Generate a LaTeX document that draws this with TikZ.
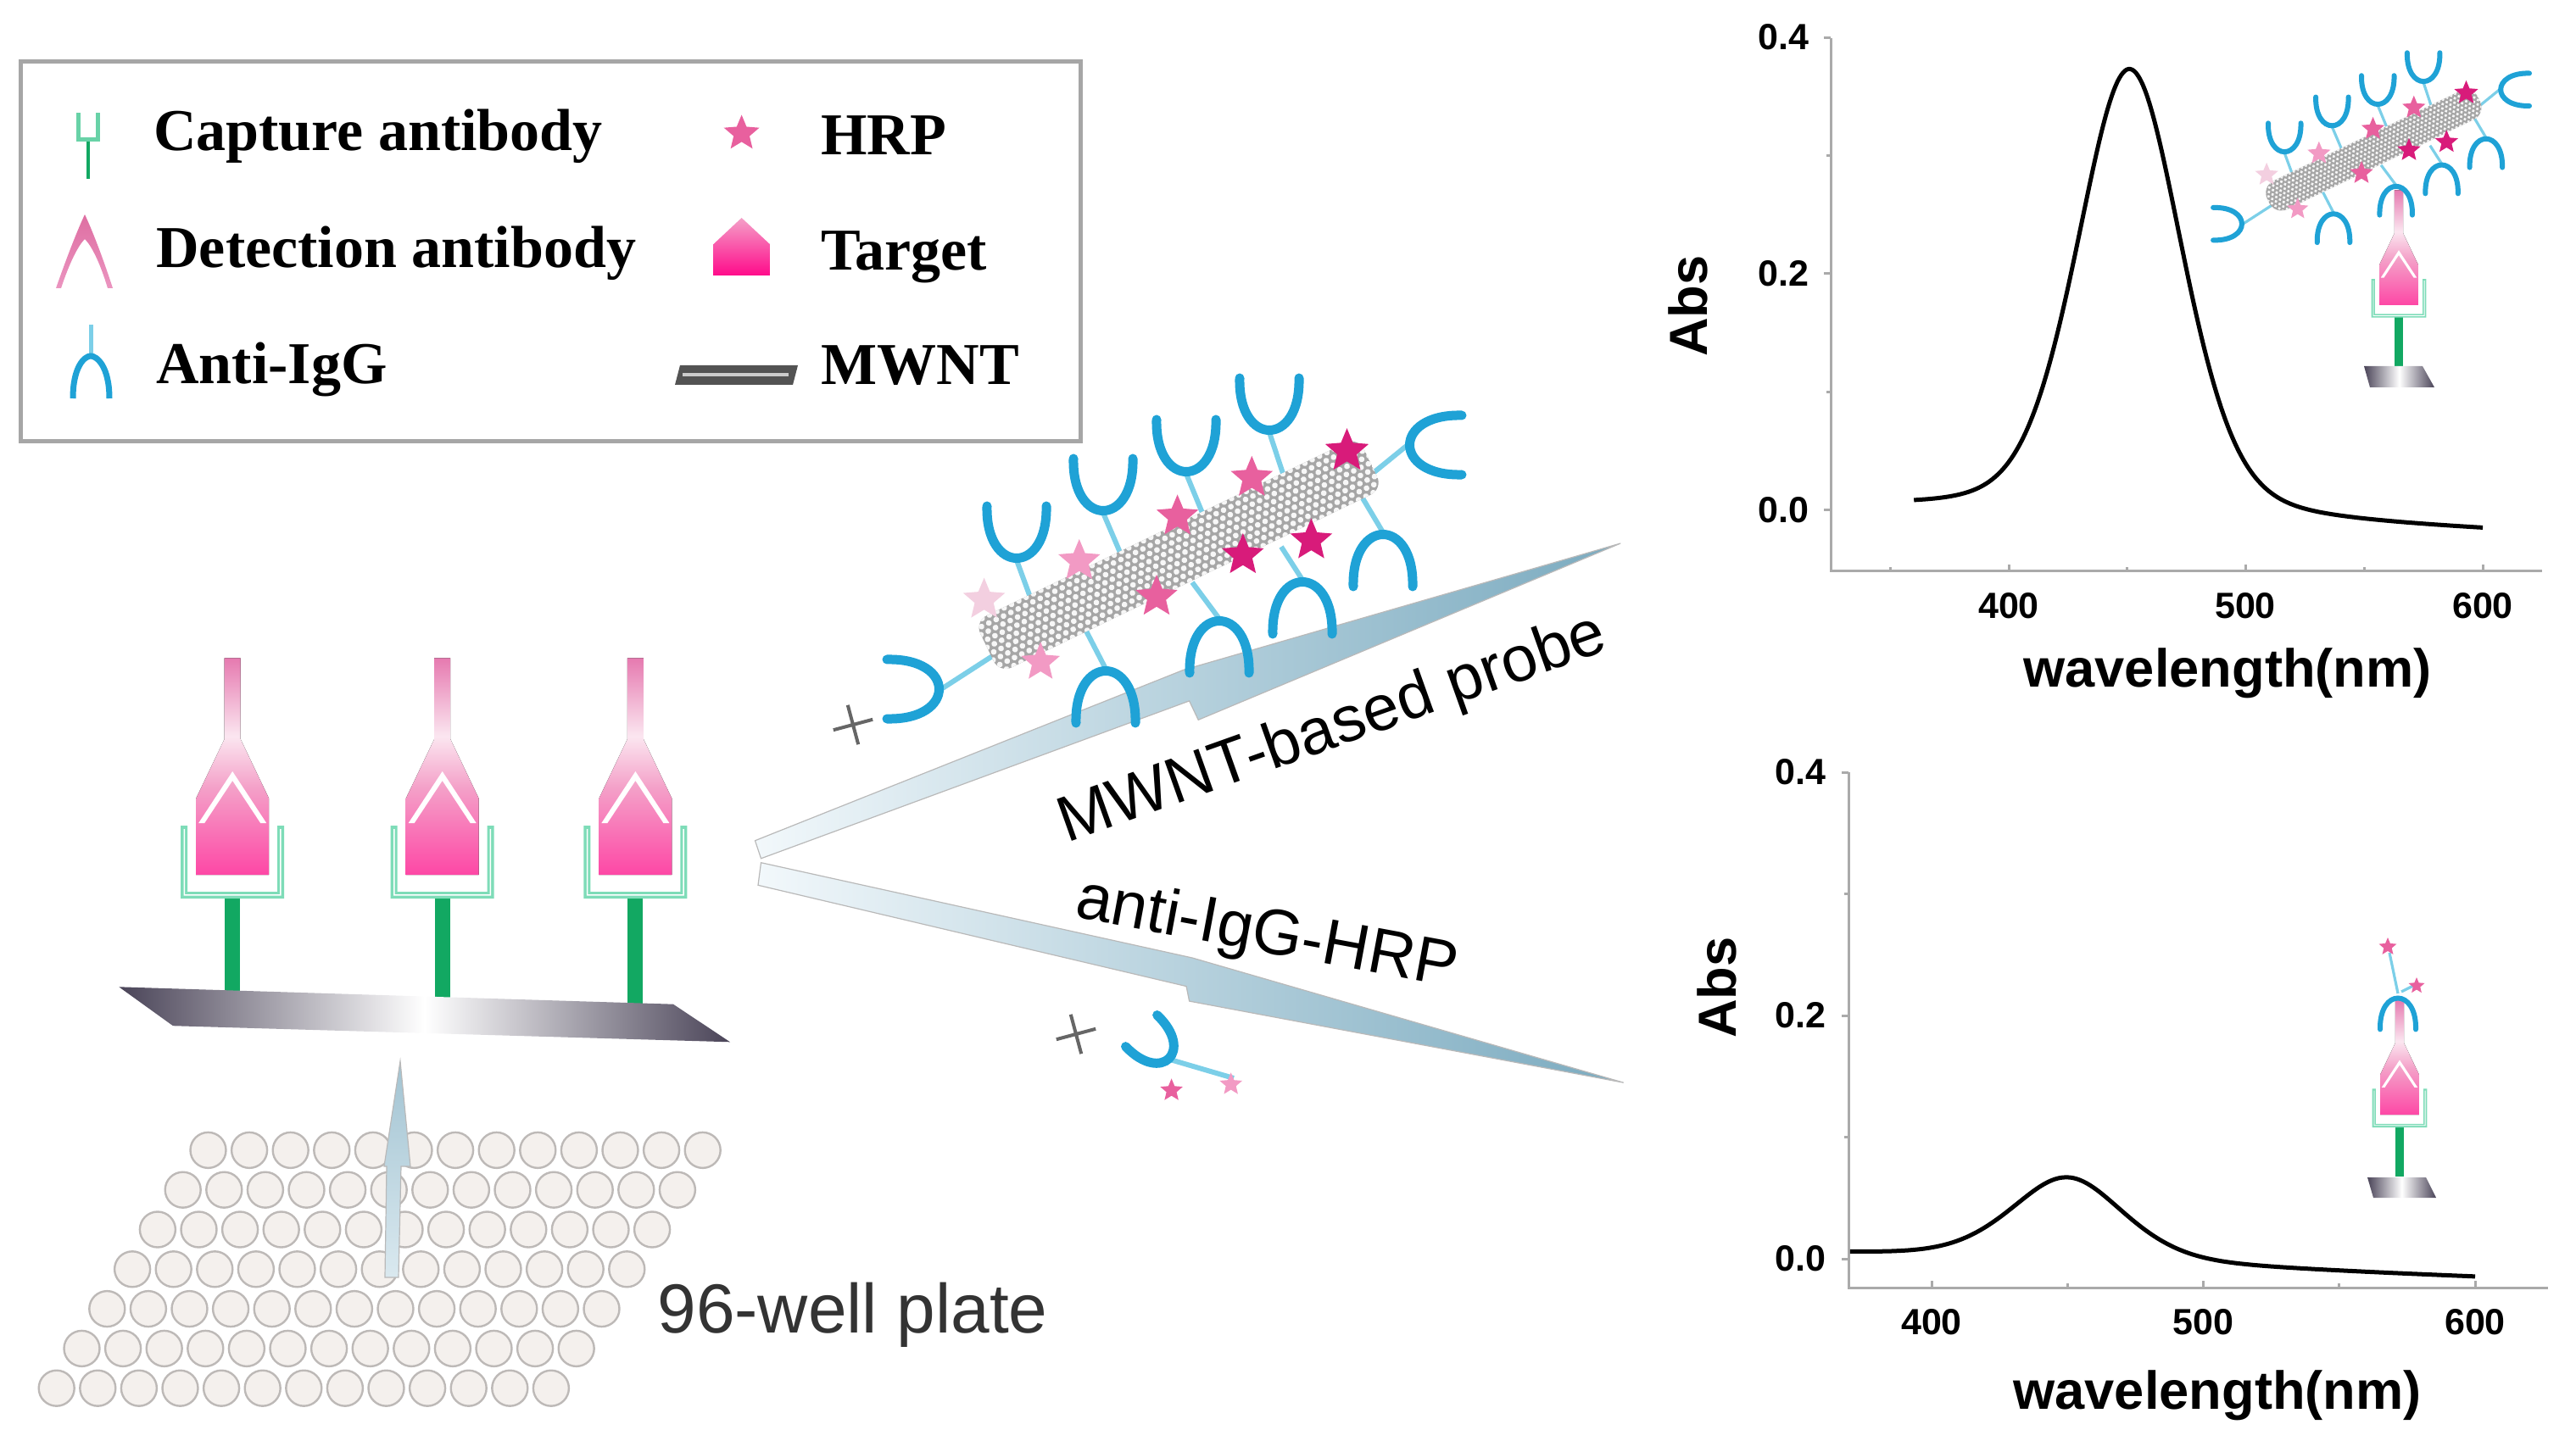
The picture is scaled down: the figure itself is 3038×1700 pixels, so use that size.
\documentclass[tikz,border=0pt]{standalone}
\usepackage{fontspec}
\setmainfont{Liberation Serif}
\newfontfamily\arial{Liberation Sans}
\definecolor{abblue}{HTML}{1FA2D6}
\definecolor{abstemc}{HTML}{7CCFE8}
\definecolor{stemgreen}{HTML}{12A862}
\definecolor{cupmint}{HTML}{7EDCB8}
\definecolor{platedark}{HTML}{4A4458}
\definecolor{tpkA}{HTML}{FF0A8A}
\definecolor{tpkB}{HTML}{FF3AA0}
\definecolor{tpkC}{HTML}{F4A0C8}
\definecolor{tpkD}{HTML}{FBE6F0}
\definecolor{tpkE}{HTML}{E67AB0}
\definecolor{tpkF}{HTML}{D0307A}
\definecolor{starA}{HTML}{F3CFE0}
\definecolor{starB}{HTML}{F29AC4}
\definecolor{starC}{HTML}{E8609E}
\definecolor{starD}{HTML}{D81B7A}
\definecolor{arrowL}{HTML}{F2F8FB}
\definecolor{arrowR}{HTML}{7AAABF}
\definecolor{wellfill}{HTML}{F4F0ED}
\definecolor{wellline}{HTML}{BDB9B7}
\definecolor{axisgray}{HTML}{AAAAAA}
\pgfdeclareverticalshading{detgrad}{100bp}{color(0bp)=(tpkA); color(22bp)=(tpkB); color(45bp)=(tpkC); color(57bp)=(tpkD); color(75bp)=(tpkE); color(100bp)=(tpkF)}
\def\cupw{5.5pt}
\def\stemw{3pt}
\tikzset{
  ab/.pic={\draw[abblue, line width=\cupw, line cap=round] (-35,-64) .. controls (-37,18) and (37,18) .. (35,-64);},
  hstar/.pic={\fill[#1] (-90:1) -- (-54:0.45) -- (-18:1) -- (18:0.45) -- (54:1) -- (90:0.45) -- (126:1) -- (162:0.45) -- (198:1) -- (234:0.45) -- cycle;},
  pics/sandwich/.style={code={
    \fill[stemgreen] (-9,-2) rectangle (9,#1);
    \fill[cupmint] (-61,-86) -- (-61,0) -- (61,0) -- (61,-86) -- (53,-86) -- (53,-8) -- (-53,-8) -- (-53,-86) -- cycle;
    \fill[white] (-57.5,-82) -- (-57.5,-3.5) -- (57.5,-3.5) -- (57.5,-82) -- (56,-82) -- (56,-5) -- (-56,-5) -- (-56,-82) -- cycle;
    \fill[shading=detgrad] (-9.5,-283.5) -- (9.5,-283.5) -- (9.5,-188) -- (43,-118) -- (43,-28) -- (-43,-28) -- (-43,-118) -- (-9.5,-188) -- cycle;
    \fill[white] (-40,-89) -- (0,-150) -- (40,-89) -- (33,-89) -- (0,-139) -- (-33,-89) -- cycle;
  }},
  abstem/.style={abstemc, line width=\stemw},
  arrowshape/.style={draw=gray!55, line width=0.6pt, left color=arrowL, right color=arrowR},
  well/.style={draw=wellline, fill=wellfill, line width=1.2pt},
  axisline/.style={axisgray, line width=1.5pt},
  curve/.style={black, line width=2.5pt, line join=round},
  ticklab/.style={font=\arial\bfseries\fontsize{21.5}{24}\selectfont},
  axlab/.style={font=\arial\bfseries\fontsize{31.6}{36}\selectfont},
  legtext/.style={anchor=base west, inner sep=0pt, font=\bfseries\fontsize{35}{40}\selectfont},
  pluss/.style={gray!80!black, line width=2pt},
  plate/.style={left color=platedark, right color=platedark, middle color=white},
}
\newcommand\probe{%
  \draw[abstem] (35,-102.7) -- (60,-34.7);
  \draw[abstem] (137,-158.7) -- (172,-76.7);
  \draw[abstem] (235,-204.7) -- (270,-119.7);
  \draw[abstem] (333,-253.7) -- (361,-168.7);
  \draw[abstem] (496,-238.7) -- (453,-203.7);
  \draw[abstem] (140,25.3) -- (109,-34.7);
  \draw[abstem] (274,-33.7) -- (242,-76.7);
  \draw[abstem] (372,-79.7) -- (347,-118.7);
  \draw[abstem] (467,-135.7) -- (439,-182.7);
  \draw[abstem] (-54,49.3) -- (11,7.3);
  \begin{scope}[rotate=25.7]
    \begin{scope}
      \clip[rounded corners=8] (0,-34) rectangle (502,34);
      \fill[gray!70] (0,-34) rectangle (502,34);
      \foreach \i in {0,...,52}{\foreach \j in {-4,...,4}{
        \fill[white!94!gray] ({\i*9.6+mod(\j+4,2)*4.8},{\j*8.3}) circle (3.4);}}
    \end{scope}
  \end{scope}
  \pic[scale=26] at (-3.4,-56.1) {hstar=starA};
  \pic[scale=26] at (108.8,-101.7) {hstar=starB};
  \pic[scale=24] at (63.2,17.6) {hstar=starB};
  \pic[scale=26] at (224.6,-154.3) {hstar=starC};
  \pic[scale=26] at (200,-59.6) {hstar=starC};
  \pic[scale=26] at (312.3,-199.9) {hstar=starC};
  \pic[scale=26] at (301.8,-108.7) {hstar=starD};
  \pic[scale=27] at (424.5,-231.5) {hstar=starD};
  \pic[scale=26] at (382.4,-126.2) {hstar=starD};
  \pic at (35,-102.7) {ab};
  \pic at (137,-158.7) {ab};
  \pic at (235,-204.7) {ab};
  \pic at (333,-253.7) {ab};
  \pic[rotate=-90] at (496,-238.7) {ab};
  \pic[rotate=180] at (140,25.3) {ab};
  \pic[rotate=180] at (274,-33.7) {ab};
  \pic[rotate=180] at (372,-79.7) {ab};
  \pic[rotate=180] at (467,-135.7) {ab};
  \pic[rotate=90] at (-54,49.3) {ab};
}
\begin{document}
\begin{tikzpicture}[x=0.5pt,y=-0.5pt]
\useasboundingbox (0,0) rectangle (3038,1700);
% ---------- legend ----------
\draw[gray!70, line width=2.5pt] (24.9,73) rectangle (1274.3,520.6);
\fill[stemgreen] (101.6,165) rectangle (105.6,211);
\draw[cupmint!80!stemgreen, line width=2.5pt] (92,133) -- (92,165) -- (115,165) -- (115,133);
\shade[top color=tpkF!70, bottom color=tpkE!80] (66,340) .. controls (80,300) and (92,270) .. (100,253) .. controls (108,270) and (120,300) .. (133,340) -- (127,340) .. controls (118,310) and (108,290) .. (100,282) .. controls (92,290) and (82,310) .. (72,340) -- cycle;
\draw[abstemc, line width=2.5pt] (107,383) -- (107,420);
\draw[abblue, line width=3.5pt] (86,470) .. controls (86,432) and (100,420) .. (107,420) .. controls (114,420) and (129,432) .. (129,470);
\pic[scale=22] at (874.6,157.5) {hstar=starC};
\shade[top color=tpkC, bottom color=tpkA] (841.5,325) -- (841.5,288) -- (874.6,257) -- (907.8,288) -- (907.8,325) -- cycle;
\fill[gray!65!black] (796,454) -- (802,431) -- (941,431) -- (935,454) -- cycle;
\fill[gray!40] (805,440) rectangle (930,444);
\node[legtext] (lcap) at (180.7,178) {Capture antibody};
\node[legtext] (ldet) at (184,316) {Detection antibody};
\node[legtext] (lanti) at (184,453) {Anti-IgG};
\node[legtext] (lhrp) at (968,183) {HRP};
\node[legtext] (ltar) at (968,319) {Target};
\node[legtext] (lmw) at (968,454) {MWNT};
% ---------- well plate ----------
\foreach \r in {0,...,6}{\foreach \c in {0,...,12}{
  \draw[well] ({245.5-29.8*\r+48.6*\c},{1356.9+46.8*\r}) circle (21);}}
\shade[draw=gray!55, line width=0.6pt, top color=arrowR!70, bottom color=arrowL!80!arrowR] (454,1507) -- (470,1507) -- (473,1376) -- (484,1376) -- (472,1252) -- (453,1376) -- (456,1376) -- cycle;
\node[anchor=west, inner sep=0pt, text=black!80, font=\arial\fontsize{41}{46}\selectfont] (wtxt) at (775,1551) {96-well plate};
% ---------- main sandwiches ----------
\pic at (274.2,1060) {sandwich=110};
\pic at (521.7,1060) {sandwich=118};
\pic at (749.4,1060) {sandwich=125};
\shade[plate] (140.3,1164.3) -- (794,1184.7) -- (861,1229.3) -- (204,1210.2) -- cycle;
% ---------- branch arrows ----------
\shade[arrowshape] (890.5,991.7) -- (1395.6,790.4) -- (1911.2,641) -- (1413.2,849.3) -- (1402.6,826.9) -- (897.5,1012.8) -- cycle;
\shade[arrowshape] (897.5,1017.7) -- (1406.1,1130) -- (1914.7,1277.2) -- (1402.6,1181.1) -- (1399.1,1163.6) -- (894,1044.3) -- cycle;
\node[font=\arial\fontsize{38}{42}\selectfont, rotate=19.6] (tprobe) at (1572,862) {MWNT-based probe};
\node[font=\arial\fontsize{38}{42}\selectfont, rotate=-10.5] (thrp) at (1494,1104) {anti-IgG-HRP};
\draw[pluss, rotate around={15:(1006,855)}] (982,855) -- (1030,855) (1006,831) -- (1006,879);
\draw[pluss, rotate around={15:(1269,1220)}] (1245,1220) -- (1293,1220) (1269,1196) -- (1269,1244);
% main probe
\begin{scope}[shift={(1164,763.7)}]
  \probe
\end{scope}
% small anti-IgG-HRP
\draw[abstem] (1380,1250) -- (1455,1272);
\pic[rotate=45, scale=0.75] at (1380,1250) {ab};
\pic[scale=14] at (1381.6,1286.4) {hstar=starC};
\pic[scale=14] at (1451.7,1279.3) {hstar=starB};
% ---------- top plot ----------
\draw[axisline] (2159,45) -- (2159,674) -- (2998,674);
\foreach \v in {0,0.2,0.4}{\draw[axisline] (2151,{602-1395*\v}) -- (2159,{602-1395*\v});}
\foreach \v in {0.1,0.3}{\draw[axisline] (2154,{602-1395*\v}) -- (2159,{602-1395*\v});}
\foreach \n in {400,500,600}{\draw[axisline] ({2369+(\n-400)*2.795},674) -- ({2369+(\n-400)*2.795},666);}
\foreach \n in {350,450,550}{\draw[axisline] ({2369+(\n-400)*2.795},674) -- ({2369+(\n-400)*2.795},669);}
\node[ticklab, anchor=east] (ty0) at (2140,602) {0.0};
\node[ticklab, anchor=east] (ty2) at (2140,323) {0.2};
\node[ticklab, anchor=east] (ty4) at (2140,44) {0.4};
\node[ticklab] (tx4) at (2369,715) {400};
\node[ticklab] (tx5) at (2648,715) {500};
\node[ticklab] (tx6) at (2928,715) {600};
\node[axlab] (twl) at (2627,794) {wavelength(nm)};
\node[axlab, rotate=90] (tabs) at (1991,361) {Abs};
\draw[curve] plot[domain=360:600, samples=160, smooth] ({2369+(\x-400)*2.795}, {602-1395*(0.38*(0.7*exp(-((\x-451)/10)*((\x-451)/10)/10.12)+0.3/(1+((\x-451)/26)*((\x-451)/26))) - 0.018*(\x-360)/240)});
% ---------- bottom plot ----------
\draw[axisline] (2180,911) -- (2180,1519) -- (3005,1519);
\foreach \v in {0,0.2,0.4}{\draw[axisline] (2172,{1485-1435*\v}) -- (2180,{1485-1435*\v});}
\foreach \v in {0.1,0.3}{\draw[axisline] (2175,{1485-1435*\v}) -- (2180,{1485-1435*\v});}
\foreach \n in {400,500,600}{\draw[axisline] ({2278+(\n-400)*3.205},1519) -- ({2278+(\n-400)*3.205},1511);}
\foreach \n in {450,550}{\draw[axisline] ({2278+(\n-400)*3.205},1519) -- ({2278+(\n-400)*3.205},1514);}
\node[ticklab, anchor=east] (by0) at (2160,1485) {0.0};
\node[ticklab, anchor=east] (by2) at (2160,1198) {0.2};
\node[ticklab, anchor=east] (by4) at (2160,911) {0.4};
\node[ticklab] (bx4) at (2278,1560) {400};
\node[ticklab] (bx5) at (2598.5,1560) {500};
\node[ticklab] (bx6) at (2919,1560) {600};
\node[axlab] (bwl) at (2615,1646) {wavelength(nm)};
\node[axlab, rotate=90] (babs) at (2025,1165) {Abs};
\draw[curve] plot[domain=370:600, samples=160, smooth] ({2278+(\x-400)*3.205}, {1485-1435*(0.07*(0.6*exp(-((\x-450)/10)*((\x-450)/10)/9)+0.4/(1+((\x-450)/25)*((\x-450)/25))) + 0.0035 - 0.0188*(\x-370)/230)});
% ---------- insets ----------
\begin{scope}[shift={(2829,374.7)}, scale=0.53, transform shape]
  \pic {sandwich=110};
\end{scope}
\shade[plate] (2788,432) -- (2857,432) -- (2871,457) -- (2795,457) -- cycle;
\begin{scope}[shift={(2675,237)}, scale=0.55, transform shape]
  \def\cupw{3pt}\def\stemw{1.6pt}
  \probe
\end{scope}
\begin{scope}[shift={(2830,1330)}, scale=0.53, transform shape]
  \pic {sandwich=110};
\end{scope}
\shade[plate] (2792,1389) -- (2861,1389) -- (2873,1413) -- (2799,1413) -- cycle;
\begin{scope}
  \def\cupw{3pt}\def\stemw{1.6pt}
  \draw[abstem] (2828,1172) -- (2818,1124);
  \draw[abstem] (2832,1170) -- (2848,1162);
  \pic[rotate=180, scale=0.6, transform shape] at (2828,1176) {ab};
  \pic[scale=11] at (2816,1117) {hstar=starC};
  \pic[scale=10] at (2850,1163) {hstar=starC};
\end{scope}
\end{tikzpicture}
\end{document}
